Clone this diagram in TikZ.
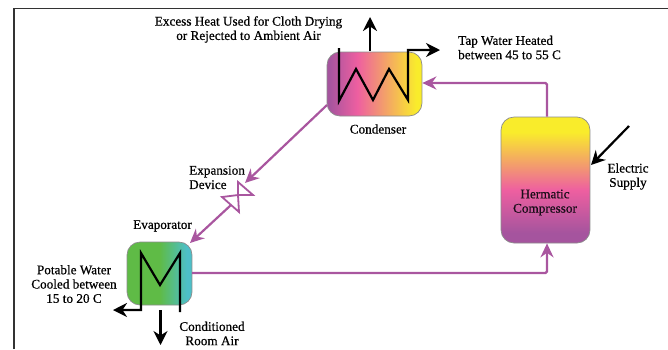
\documentclass[tikz,border=0pt]{standalone}
\usepackage{fontspec}
\setmainfont{Liberation Serif}[FakeBold=0.6,AutoFakeBold=0.6]
\usetikzlibrary{arrows.meta}
\definecolor{cpurple}{HTML}{A5549E}
\definecolor{cpink}{HTML}{EE5FA0}
\definecolor{cyellow}{HTML}{F9EC2B}
\definecolor{egreen}{HTML}{5FBB46}
\definecolor{eteal}{HTML}{4DBFC8}
\definecolor{flow}{HTML}{A9569F}
\pgfdeclarehorizontalshading{condshade}{100bp}{
 color(0bp)=(cpurple); color(26bp)=(cpurple); color(41bp)=(cpink); color(72bp)=(cyellow); color(100bp)=(cyellow)}
\pgfdeclareverticalshading{compshade}{100bp}{
 color(0bp)=(cpurple); color(29bp)=(cpurple); color(46bp)=(cpink); color(69bp)=(cyellow); color(100bp)=(cyellow)}
\pgfdeclarehorizontalshading{evapshade}{100bp}{
 color(0bp)=(egreen); color(50bp)=(egreen); color(71bp)=(eteal); color(100bp)=(eteal)}
\tikzset{
 x=1pt,y=-1pt,
 unit/.style={draw=black!45,line width=0.7pt,rounded corners=13pt,minimum width=#1,inner sep=0pt},
 flowline/.style={draw=flow,line width=2.2pt,-{Stealth[length=14pt,width=13pt]},rounded corners=1.5pt},
 blackline/.style={draw=black,line width=2.2pt,line join=miter},
 blackarrow/.style={blackline,-{Stealth[length=14pt,width=14pt]}},
 lab/.style={align=center,inner sep=0pt,font=\fontsize{13.2}{14.3}\selectfont},
}
\begin{document}
\begin{tikzpicture}
\useasboundingbox (0,0) rectangle (668,349);
\draw[line width=1.4pt,black!80] (14,349) -- (14,8.5) -- (668,8.5);
% units
\node[unit=95pt,minimum height=64pt,shading=condshade,anchor=center] (cond) at (374.5,84) {};
\node[unit=65pt,minimum height=63pt,shading=evapshade,anchor=center] (evap) at (159.5,273.5) {};
\node[unit=89pt,minimum height=126pt,shading=compshade,anchor=center] (comp) at (545.5,180) {};
% labels
\node[lab] (t1) at (248.5,29.5) {Excess Heat Used for Cloth Drying\\or Rejected to Ambient Air};
\node[lab,align=left,anchor=west] (t2) at (458,47.5) {Tap Water Heated\\between 45 to 55 C};
\node[lab] (t3) at (378,129) {Condenser};
\node[lab,align=left,anchor=west] (t4) at (189,177.5) {Expansion\\Device};
\node[lab] (t5) at (162.5,226) {Evaporator};
\node[lab] (t6) at (74,284) {Potable Water\\Cooled between\\15 to 20 C};
\node[lab] (t7) at (212,333.5) {Conditioned\\Room Air};
\node[lab,text=black!85!flow] (t8) at (545,202.5) {Hermatic\\Compressor};
\node[lab] (t9) at (628,176.5) {Electric\\Supply};
% valve
\coordinate (vc) at (238,195);
\coordinate (va) at (238,182);
\coordinate (vb) at (253,195);
\coordinate (vd) at (222,197);
\coordinate (ve) at (239,212);
\draw[flow,line width=1.8pt,line join=miter,fill=white] (vc) -- (va) -- (vb) -- cycle;
\draw[flow,line width=1.8pt,line join=miter,fill=white] (vc) -- (vd) -- (ve) -- cycle;
% flows
\coordinate (c1) at (547,83);
\coordinate (e1) at (547,273);
\coordinate (vin) at (245,183);
\coordinate (vout) at (231,205);
\coordinate (cl) at (327,105);
\coordinate (et) at (190,243);
\coordinate (er) at (192,273);
\draw[flowline] (comp.north -| c1) -- (c1) -- (cond.east |- c1);
\draw[flowline] (cl) -- (vin);
\draw[flowline] (vout) -- (et);
\draw[flowline] (er) -- (e1) -- (comp.south -| e1);
% condenser coil
\coordinate (k0) at (339,48);
\coordinate (k1) at (339,101);
\coordinate (k2) at (356,69);
\coordinate (k3) at (373,100);
\coordinate (k4) at (389,69);
\coordinate (k5) at (408,100);
\coordinate (k6) at (408,50);
\coordinate (k7) at (440,50);
\draw[blackarrow] (k0) -- (k1) -- (k2) -- (k3) -- (k4) -- (k5) -- (k6) -- (k7);
\coordinate (u0) at (370,51);
\coordinate (u1) at (370,17);
\draw[blackarrow] (u0) -- (u1);
% evaporator coil
\coordinate (m0) at (180,312);
\coordinate (m1) at (180,253);
\coordinate (m2) at (160,285);
\coordinate (m3) at (141,253);
\coordinate (m4) at (141,310);
\coordinate (m5) at (113,310);
\draw[blackarrow] (m0) -- (m1) -- (m2) -- (m3) -- (m4) -- (m5);
\coordinate (d0) at (160.5,310);
\coordinate (d1) at (160.5,345);
\draw[blackarrow] (d0) -- (d1);
% electric
\coordinate (el) at (629,126);
\coordinate (el2) at (591,165);
\draw[blackarrow] (el) -- (el2);
\end{tikzpicture}
\end{document}
